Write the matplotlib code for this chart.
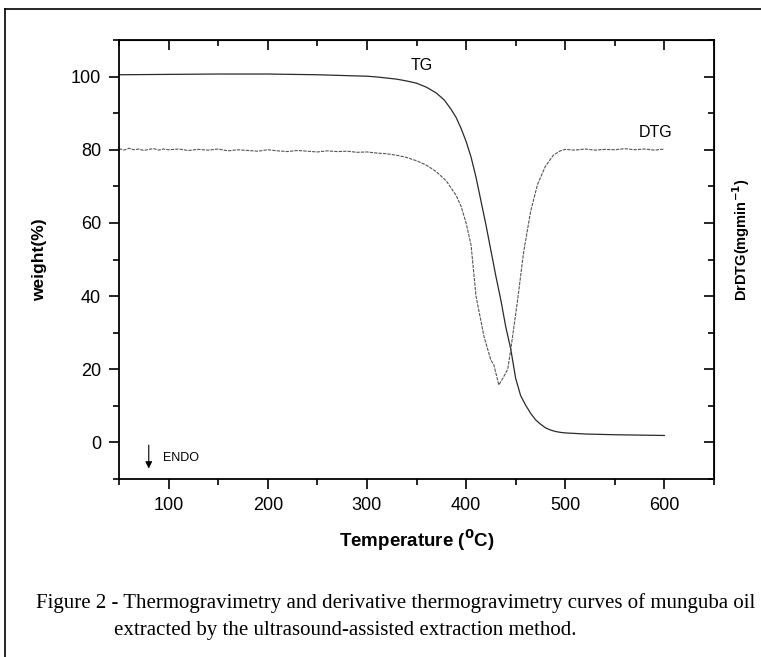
import matplotlib
matplotlib.use("Agg")
import matplotlib.pyplot as plt
from matplotlib.ticker import MultipleLocator
from matplotlib.lines import Line2D

plt.rcParams['font.family'] = ['Liberation Sans', 'DejaVu Sans']

# TG curve (weight %)
tg_x = [50, 100, 150, 200, 250, 300, 310, 320, 330, 340, 350, 360, 370, 378, 385, 390,
        395, 400, 405, 410, 415, 420, 425, 430, 435, 440, 445, 450, 455, 460, 465, 470,
        475, 480, 485, 490, 495, 500, 520, 550, 600]
tg_y = [100.5, 100.6, 100.7, 100.7, 100.5, 100.1, 99.9, 99.6, 99.3, 98.8, 98.2, 97.1,
        95.5, 93.6, 91.0, 88.8, 85.8, 82.3, 78.0, 72.5, 66.0, 59.5, 52.5, 45.5, 39.0,
        31.6, 25.6, 17.5, 12.8, 10.2, 8.0, 6.2, 5.0, 4.0, 3.4, 3.0, 2.75, 2.6, 2.3,
        2.1, 1.9]

# DTG curve (plotted on same scale)
dtg_x = [50, 55, 60, 65, 70, 75, 80, 85, 90, 95, 100, 110, 120, 130, 140, 150, 160, 170,
         180, 190, 200, 210, 220, 230, 240, 250, 260, 270, 280, 290, 300, 310, 320, 330,
         340, 350, 360, 370, 380, 390, 395, 400, 405, 410, 418, 425, 428, 433, 437, 442,
         445, 452, 458, 465, 472, 480, 488, 495, 500, 510, 520, 530, 540, 550, 560, 570,
         580, 590, 600]
dtg_y = [80.3, 79.9, 80.4, 80.0, 80.2, 79.8, 80.1, 80.3, 79.9, 80.2, 80.0, 80.2, 79.8,
         80.1, 79.9, 80.2, 79.7, 80.0, 79.8, 79.6, 80.0, 79.7, 79.5, 79.8, 79.6, 79.4,
         79.7, 79.5, 79.6, 79.3, 79.4, 79.1, 78.9, 78.5, 77.9, 77.0, 75.8, 74.0, 71.5,
         67.5, 64.5, 60.0, 54.0, 40.0, 29.0, 22.5, 21.2, 15.7, 17.5, 20.0, 25.3, 39.0,
         52.0, 63.0, 70.5, 75.5, 78.5, 79.7, 80.1, 79.9, 80.2, 79.9, 80.1, 80.0, 80.3,
         80.0, 80.2, 79.9, 80.2]

x_major = [100, 200, 300, 400, 500, 600]
y_major = [0, 20, 40, 60, 80, 100]

W, H = 761, 657
fig = plt.figure(figsize=(W / 100, H / 100), dpi=100)
L, R, T, B = 119, 714, 40, 479
ax = fig.add_axes([L / W, 1 - B / H, (R - L) / W, (B - T) / H])

ax.plot(tg_x, tg_y, color='#2a2a2a', lw=0.9)
ax.plot(dtg_x, dtg_y, color='#555555', lw=0.8, ls=(0, (3, 1)))

ax.set_xlim(50, 650)
ax.set_ylim(-10, 110)
ax.set_xticks(x_major)
ax.set_yticks(y_major)
ax.xaxis.set_minor_locator(MultipleLocator(50))
ax.yaxis.set_minor_locator(MultipleLocator(10))
ax.tick_params(which='major', length=7, width=1.2, labelsize=13, direction='out', pad=6)
ax.tick_params(which='minor', length=4, width=1.2, direction='out')
for s in ax.spines.values():
    s.set_linewidth(1.3)

top = ax.secondary_xaxis('top')
top.set_xticks(x_major)
top.xaxis.set_minor_locator(MultipleLocator(50))
top.tick_params(which='major', direction='in', length=7, width=1.2, labeltop=False)
top.tick_params(which='minor', direction='in', length=4, width=1.2)
right = ax.secondary_yaxis('right')
right.set_yticks(y_major)
right.yaxis.set_minor_locator(MultipleLocator(10))
right.tick_params(which='major', direction='in', length=7, width=1.2, labelright=False)
right.tick_params(which='minor', direction='in', length=4, width=1.2)

ax.set_xlabel('Temperature ($\\mathbf{^0}$C)', fontsize=13.5, fontweight='bold', labelpad=10)
fig.text(40 / W, 1 - 260 / H, 'weight(%)', rotation=90, fontsize=12.5, fontweight='bold',
         ha='center', va='center')
fig.text(741 / W, 1 - 240 / H, 'DrDTG(mgmin$\\mathbf{^{-1}}$)', rotation=90, fontsize=10.5,
         fontweight='bold', ha='center', va='center')

ax.text(355, 103, 'TG', fontsize=11.5, ha='center', va='center')
ax.text(591, 84.7, 'DTG', fontsize=11.5, ha='center', va='center')
ax.annotate('', xy=(80, -7.9), xytext=(80, 0),
            arrowprops=dict(arrowstyle='-|>', color='black', lw=0.8, mutation_scale=10))
ax.text(94.5, -4.3, 'ENDO', fontsize=9, ha='left', va='center')

# caption
line1 = 'Figure 2 - Thermogravimetry and derivative thermogravimetry curves of munguba oil'
line2 = 'extracted by the ultrasound-assisted extraction method.'
cap_kw = dict(family=['Liberation Serif'], fontsize=15)
t1 = fig.text(755 / W, 1 - 603 / H, line1, ha='right', va='center', **cap_kw)
renderer = fig.canvas.get_renderer()
x_left = t1.get_window_extent(renderer).x0
fig.text((x_left + 78) / W, 1 - 630 / H, line2, ha='left', va='center', **cap_kw)

# outer frame
fig.add_artist(Line2D([5 / W, 1.0], [1 - 9 / H, 1 - 9 / H], color='black', lw=1.2,
                      transform=fig.transFigure))
fig.add_artist(Line2D([5 / W, 5 / W], [0, 1 - 9 / H], color='black', lw=1.2,
                      transform=fig.transFigure))

fig.savefig('out.png', dpi=100)
